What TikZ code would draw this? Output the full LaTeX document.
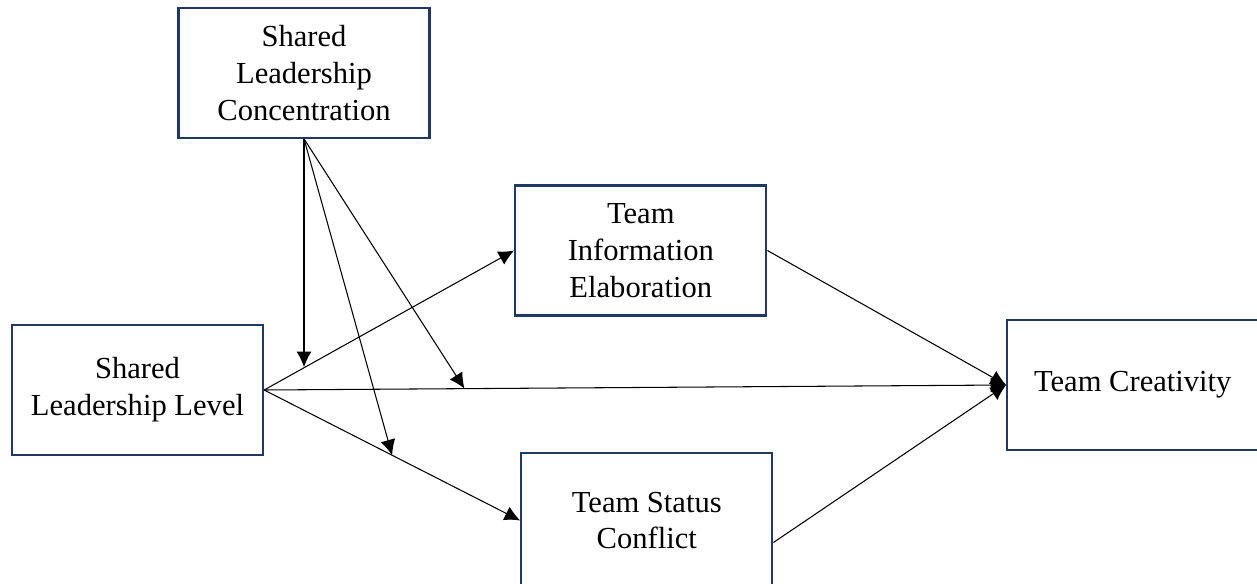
\documentclass[tikz,border=0pt]{standalone}
\usepackage{fontspec}
\setmainfont{Liberation Serif}
\usetikzlibrary{arrows.meta,positioning,calc}
\definecolor{boxblue}{HTML}{1F3864}

\begin{document}
\begin{tikzpicture}[
    box/.style={draw=boxblue, line width=1.3pt, align=center, minimum width=5.02cm, minimum height=2.6cm, font=\fontsize{17.4}{21}\selectfont, inner sep=2pt},
    path/.style={-{Latex[length=3.1mm,width=3mm]}, line width=0.6pt}
  ]
    \useasboundingbox (0,0) rectangle (25.14,-11.66);
    \node[box] (sll) at (2.75,-7.8) {Shared\\Leadership Level};
    \node[box, above=3.7cm of sll, xshift=3.33cm] (slc) {Shared\\Leadership\\Concentration};
    \node[box, right=5cm of sll, yshift=2.79cm] (tie) {Team\\Information\\Elaboration};
    \node[box, right=5.12cm of sll, yshift=-2.61cm, minimum height=2.7cm] (tsc) {Team Status\\Conflict};
    \node[box, right=14.84cm of sll, yshift=0.1cm] (tc) {Team Creativity};

    \draw[path] (sll.east) -- (tie.west) coordinate[pos=0.164] (m1);
    \draw[path] (sll.east) -- (tc.west) coordinate[pos=0.27] (m2);
    \draw[path] (sll.east) -- (tsc.west) coordinate[pos=0.5] (m3);
    \draw[path] (tie.east) -- (tc.west);
    \draw[path] ([yshift=-0.44cm]tsc.east) -- (tc.west);

    \draw[path] (slc.south) -- (slc.south |- m1);
    \draw[path] (slc.south) -- (m2);
    \draw[path] (slc.south) -- (m3);
  \end{tikzpicture}
\end{document}
